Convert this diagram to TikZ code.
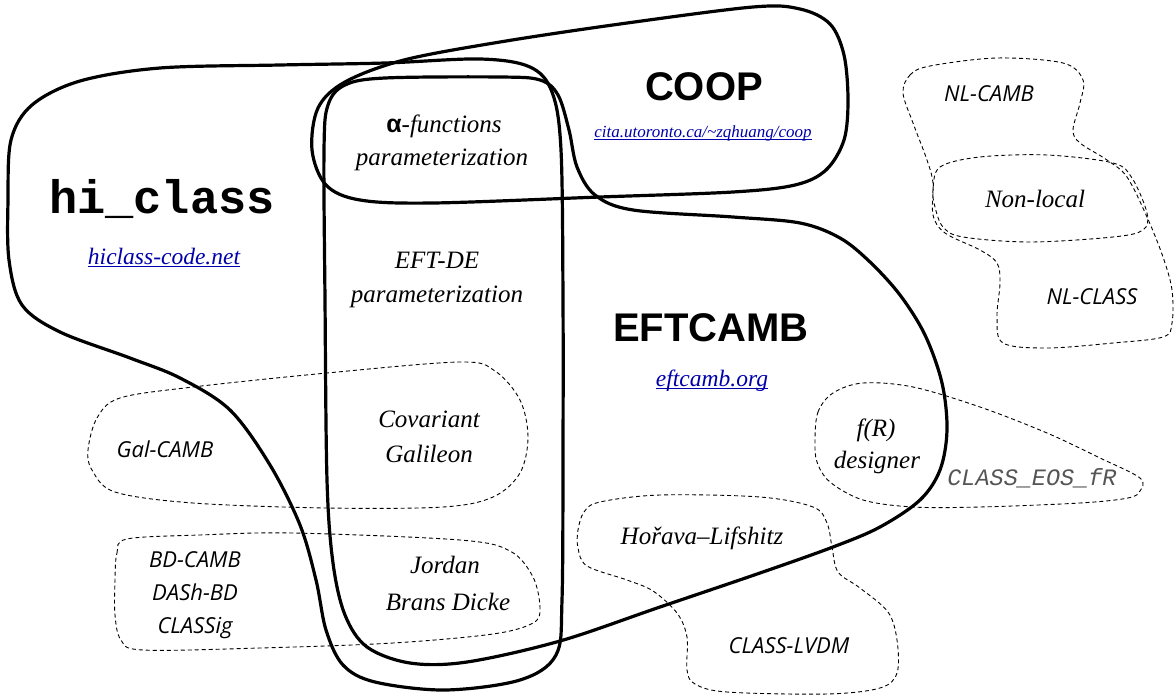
\documentclass[tikz,border=0pt]{standalone}
\usepackage{fontspec}
\setmainfont{Liberation Serif}
\newfontfamily\monofam{Liberation Mono}
\newfontfamily\arialfam{Liberation Sans}
\newfontfamily\osfam{Open Sans}
\definecolor{linkblue}{RGB}{0,0,170}
\definecolor{eosgray}{RGB}{85,85,85}
\newcommand\lnk[1]{\setbox0\hbox{#1}\rlap{\rule[-0.13em]{\wd0}{0.055em}}\box0}
\begin{document}
\begin{tikzpicture}[x=1pt,y=-1pt,
  region/.style={line width=3.2pt, line join=round},
  subregion/.style={line width=0.9pt, dash pattern=on 4pt off 3pt},
  big/.style={font=\arialfam\bfseries\fontsize{40}{40}\selectfont, anchor=base, inner sep=0pt},
  lab/.style={font=\itshape\fontsize{25}{25}\selectfont, anchor=base, inner sep=0pt},
  code/.style={font=\osfam\itshape\fontsize{22}{22}\selectfont, anchor=base, inner sep=0pt},
  url/.style={font=\itshape\fontsize{23.5}{23.5}\selectfont, text=linkblue, anchor=base, inner sep=0pt}]
\useasboundingbox (0,0) rectangle (1175,698);

% dashed sub-regions
\draw[subregion] plot[smooth cycle, tension=0.55] coordinates {(88,450) (97,418) (120,398) (193,387) (327,373) (460,362) (495,371) (520,400) (528,437) (520,473) (493,497) (443,507) (327,508) (193,503) (115,492) (92,470)};
\draw[subregion] plot[smooth cycle, tension=0.55] coordinates {(115,580) (117,553) (127,539) (200,535) (293,533) (460,540) (510,551) (533,577) (540,608) (533,623) (493,634) (393,643) (260,648) (143,650) (121,640) (115,615)};
\draw[subregion] plot[smooth cycle, tension=0.55] coordinates {(578,530) (584,512) (600,502) (660,495) (760,497) (813,507) (827,523) (832,547) (838,572) (860,588) (888,612) (897,640) (897,673) (880,688) (827,694) (727,692) (695,684) (687,670) (687,637) (677,613) (653,591) (627,580) (587,566) (578,548)};
\draw[subregion] plot[smooth cycle, tension=0.55] coordinates {(815,440) (818,412) (833,393) (863,383) (913,387) (980,407) (1047,433) (1100,458) (1140,478) (1140,491) (1128,498) (1080,503) (980,507) (913,507) (863,500) (830,482) (817,462)};
\draw[subregion] plot[smooth cycle, tension=0.55] coordinates {(903,93) (910,75) (930,66) (997,58) (1063,63) (1083,80) (1080,103) (1073,130) (1080,143) (1107,160) (1127,177) (1147,217) (1163,257) (1172,290) (1172,323) (1163,337) (1113,343) (1047,348) (1003,343) (997,317) (1000,283) (997,263) (980,250) (945,233) (933,215) (933,183) (927,160) (913,123)};
\draw[subregion] plot[smooth cycle, tension=0.55] coordinates {(933,190) (940,167) (980,157) (1047,155) (1113,163) (1132,178) (1147,213) (1143,230) (1113,237) (1030,242) (963,237) (943,227) (935,207)};

% thick regions
\draw[region] plot[smooth cycle, tension=0.55] coordinates {(8,200) (11,140) (32,105) (80,81) (160,68) (280,65) (385,63) (480,59) (530,67) (552,92) (561,150) (563,300) (563,450) (562,600) (556,655) (520,680) (445,690) (375,682) (343,665) (326,630) (316,580) (300,525) (270,465) (230,410) (180,378) (130,358) (60,332) (22,305) (9,260)};
\draw[region] plot[smooth cycle, tension=0.55] coordinates {(325,300) (324,150) (328,105) (345,85) (385,78) (500,77) (540,80) (558,95) (569,130) (577,167) (595,195) (633,210) (733,217) (800,223) (840,238) (870,262) (900,295) (925,335) (942,383) (947,430) (940,470) (920,500) (880,527) (833,547) (760,573) (660,607) (560,641) (467,662) (410,663) (367,647) (345,615) (333,563) (327,480)};
\draw[region] plot[smooth cycle, tension=0.55] coordinates {(312,150) (318,108) (345,82) (404,60) (500,42) (620,24) (753,7) (800,9) (830,24) (844,55) (848,100) (844,140) (826,170) (795,185) (733,192) (600,197) (433,203) (360,200) (326,185)};

% main labels
\node[font=\monofam\bfseries\fontsize{47}{47}\selectfont, anchor=base, inner sep=0pt] (hiclass) at (162,213) {hi\_class};
\node[url] (hiurl) at (164,264) {\lnk{hiclass-code.net}};
\node[big] (coop) at (704,101) {COOP};
\node[url, font=\itshape\fontsize{17}{17}\selectfont] (coopurl) at (703,138) {\lnk{cita.utoronto.ca/\textasciitilde zqhuang/coop}};
\node[big] (eftcamb) at (711,341) {EFTCAMB};
\node[url] (efturl) at (712,386) {\lnk{eftcamb.org}};

% theory labels
\node[lab] (alpha1) at (444,133) {{\arialfam\bfseries\upshape α}-functions};
\node[lab] (alpha2) at (442,165) {parameterization};
\node[lab] (eft1) at (437,268) {EFT-DE};
\node[lab] (eft2) at (437,302) {parameterization};
\node[lab] (cov1) at (429,427) {Covariant};
\node[lab] (cov2) at (429,462) {Galileon};
\node[lab] (jbd1) at (445,573) {Jordan};
\node[lab] (jbd2) at (448,610) {Brans Dicke};
\node[lab] (nonlocal) at (1035,207) {Non-local};
\node[lab] (horava) at (702,544) {Hořava--Lifshitz};
\node[lab] (fr1) at (876,436) {f(R)};
\node[lab] (fr2) at (877,468) {designer};

% code labels
\node[code] (gal) at (165,457) {Gal-CAMB};
\node[code] (bd1) at (195,567) {BD-CAMB};
\node[code] (bd2) at (195,600) {DASh-BD};
\node[code] (bd3) at (195,633) {CLASSig};
\node[code] (nlcamb) at (989,102) {NL-CAMB};
\node[code] (nlclass) at (1092,304) {NL-CLASS};
\node[code] (lvdm) at (789,653) {CLASS-LVDM};
\node[font=\monofam\itshape\fontsize{23.5}{23.5}\selectfont, text=eosgray, anchor=base, inner sep=0pt] (eos) at (1032,485) {CLASS\_EOS\_fR};
\end{tikzpicture}
\end{document}
